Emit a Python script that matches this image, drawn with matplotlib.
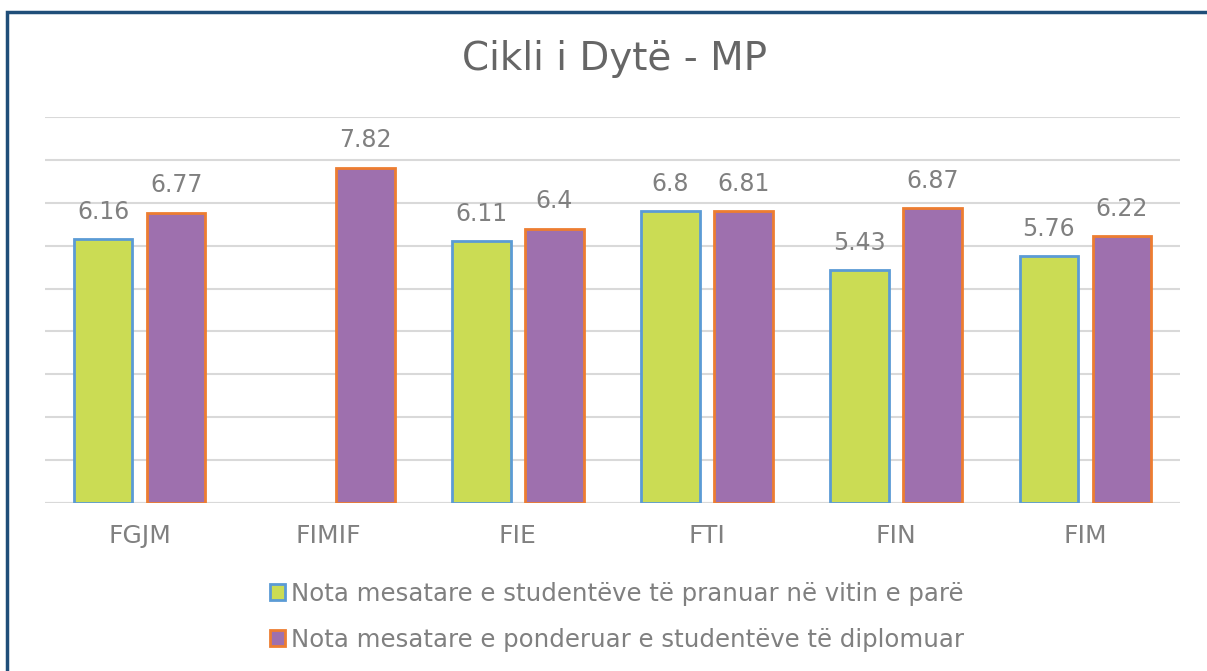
import numpy as np
import matplotlib

matplotlib.use("Agg")
import matplotlib.pyplot as plt  # noqa: E402
from matplotlib.patches import Rectangle  # noqa: E402

categories = ["FGJM", "FIMIF", "FIE", "FTI", "FIN", "FIM"]
pranuar = [6.16, np.nan, 6.11, 6.8, 5.43, 5.76]
diplomuar = [6.77, 7.82, 6.4, 6.81, 6.87, 6.22]
series_labels = [
    "Nota mesatare e studentëve të pranuar në vitin e parë",
    "Nota mesatare e ponderuar e studentëve të diplomuar",
]
title = "Cikli i Dytë - MP"

plt.rcParams["font.family"] = ["DejaVu Sans"]
text_color = "#808080"

fig = plt.figure(figsize=(12.07, 6.71), dpi=100)
ax = fig.add_axes([0.0373, 0.2504, 0.9403, 0.5752])

x = np.arange(len(categories))
width = 0.31
offset = 0.193
b1 = ax.bar(x - offset, pranuar, width, color="#cbdc54", edgecolor="#5b9bd5",
            linewidth=2, label=series_labels[0], zorder=3)
b2 = ax.bar(x + offset, diplomuar, width, color="#9e70ae", edgecolor="#ed7d31",
            linewidth=2, label=series_labels[1], zorder=3)

for bars, vals in ((b1, pranuar), (b2, diplomuar)):
    for rect, v in zip(bars, vals):
        if np.isnan(v):
            continue
        ax.annotate(f"{v:g}", (rect.get_x() + rect.get_width() / 2, v),
                    xytext=(0, 11), textcoords="offset points", ha="center",
                    va="bottom", fontsize=17, color=text_color)

ax.set_xlim(-0.5, len(categories) - 0.5)
ax.set_ylim(0, 9)
ax.set_yticks(np.arange(0, 10, 1))
ax.yaxis.grid(True, color="#d9d9d9", linewidth=1.5, zorder=0)
ax.tick_params(axis="y", left=False, labelleft=False)
ax.tick_params(axis="x", length=0, pad=15, labelsize=18, labelcolor=text_color)
ax.set_xticks(x)
ax.set_xticklabels(categories)
for s in ax.spines.values():
    s.set_visible(False)
ax.axhline(0, color="#d9d9d9", linewidth=1.5, zorder=2)

fig.text(0.509, 0.912, title, ha="center", va="center", fontsize=28, color="#666666")

fig.legend(loc="center", bbox_to_anchor=(0.511, 0.0805), ncol=1, frameon=False,
           fontsize=17.6, labelcolor=text_color, handlelength=0.62, handleheight=0.62,
           handletextpad=0.25, labelspacing=0.9)

fig.patches.append(Rectangle((7 / 1207, -0.05), 1.2, 1 - 12 / 671 + 0.05,
                             transform=fig.transFigure, fill=False,
                             edgecolor="#1f4e79", linewidth=2.5))

fig.savefig("out.png", dpi=100)
plt.close(fig)
